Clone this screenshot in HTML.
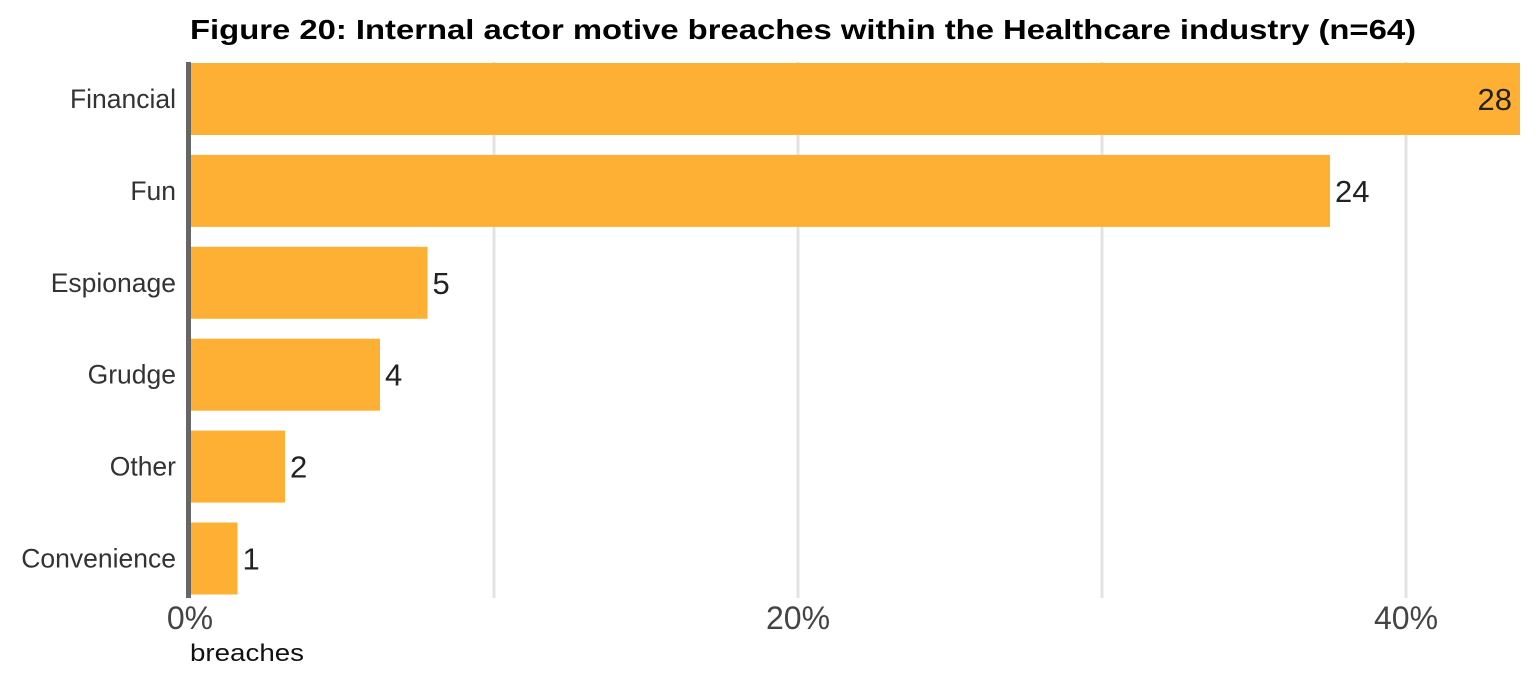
<!DOCTYPE html>
<html><head><meta charset="utf-8"><style>
body{margin:0;background:#fff;width:1536px;height:676px;overflow:hidden;font-family:"Liberation Sans",sans-serif}
</style></head><body>
<svg width="1536" height="676">
<text x="190" y="39" font-size="28" font-weight="bold" fill="#000" textLength="1226" lengthAdjust="spacingAndGlyphs">Figure 20: Internal actor motive breaches within the Healthcare industry (n=64)</text>
<g id="grid"></g>
<g id="bars"></g>
<rect x="186" y="62" width="5" height="536" fill="#666"/>
<text x="190" y="661" font-size="24" fill="#111" textLength="114" lengthAdjust="spacingAndGlyphs">breaches</text>
</svg>
<script>
const categories=["Financial","Fun","Espionage","Grudge","Other","Convenience"];
const counts=[28,24,5,4,2,1];
const total=64;
const gridTicks=[10,20,30,40];
const tickLabels=["0%","20%","40%"];
const tickValues=[0,20,40];
const ns="http://www.w3.org/2000/svg";
const x0=190,pxPer=30.4;
const xs=v=>x0+v*pxPer;
const svg=document.querySelector('svg');
const grid=document.getElementById('grid'),bars=document.getElementById('bars');
function mk(tag,attrs,parent){const e=document.createElementNS(ns,tag);for(const k in attrs)e.setAttribute(k,attrs[k]);parent.appendChild(e);return e;}
gridTicks.forEach(t=>{
 const l=mk('line',{x1:xs(t),x2:xs(t),y1:62,y2:598,stroke:'#e3e3e3','stroke-width':3},grid);
 
 
});
tickValues.forEach((t,i)=>{
 const tx=mk('text',{x:xs(t),y:629,'font-size':32,fill:'#444','text-anchor':'middle'},svg);
 tx.textContent=tickLabels[i];
 
 
});
categories.forEach((c,i)=>{
 const y=63+i*91.9,h=72;
 const pct=counts[i]/total*100;
 const w=Math.min(xs(pct),1536)-x0;
 const r=mk('rect',{x:x0,y:y,width:w,height:h,fill:'#fdb033'},bars);
 
 
 const lb=mk('text',{x:176,y:y+h/2+9,'font-size':26.5,fill:'#333','text-anchor':'end'},svg);
 lb.textContent=c;
 
 
 const end=xs(pct);
 const inside=end+60>1536;
 const vl=mk('text',{x:inside?end-8:end+5,y:y+h/2+11,'font-size':31,fill:'#222','text-anchor':inside?'end':'start'},svg);
 vl.textContent=counts[i];
 
 
});
</script>
</body></html>
